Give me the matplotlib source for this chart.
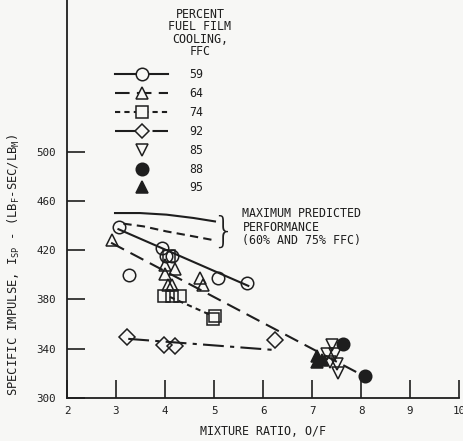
import matplotlib
matplotlib.use("Agg")
import matplotlib.pyplot as plt
from matplotlib.lines import Line2D

# test points (mixture ratio, Isp)
mr_59 = [3.07, 3.27, 3.93, 4.03, 4.14, 5.09, 5.67]
isp_59 = [439, 400, 422, 415, 415, 397, 393]
mr_64 = [2.91, 4.00, 4.20, 4.00, 4.07, 4.15, 4.71, 4.77]
isp_64 = [428, 408, 405, 401, 392, 392, 397, 392]
mr_74 = [4.08, 3.97, 4.14, 4.31, 4.97, 5.02]
isp_74 = [415, 382.5, 382.5, 382.5, 364.5, 366.5]
mr_92 = [3.22, 3.97, 4.20, 6.24]
isp_92 = [349.5, 343, 342, 347]
mr_85 = [7.40, 7.30, 7.47, 7.37, 7.50, 7.54]
isp_85 = [343, 336, 336, 329.5, 328, 320]
mr_88 = [7.64, 8.08]
isp_88 = [344, 318]
mr_95 = [7.10, 7.10, 7.20]
isp_95 = [334, 329, 331]

# faired lines
fit59_x, fit59_y = [3.05, 5.70], [437, 391]
fit64_x, fit64_y = [2.90, 8.05], [426, 318]
fit74_x, fit74_y = [4.10, 4.95], [382, 367]
fit92_x, fit92_y = [3.25, 6.22], [348, 339]

# maximum predicted performance curves
pred_a_x = [2.98, 3.49, 4.03, 4.58, 5.02]
pred_a_y = [450.1, 450.1, 448.8, 446.1, 443.3]
pred_b_x = [3.15, 3.56, 4.03, 4.51, 5.02]
pred_b_y = [441.5, 439.3, 435.2, 431.7, 427.9]

xticks = [2, 3, 4, 5, 6, 7, 8, 9, 10]
yticks = [300, 340, 380, 420, 460, 500]

bg = "#f7f7f5"
ink = "#1e1e1e"
plt.rcParams["font.family"] = ["DejaVu Sans Mono"]
plt.rcParams["mathtext.fontset"] = "custom"
plt.rcParams["mathtext.rm"] = "DejaVu Sans Mono"

fig = plt.figure(figsize=(4.63, 4.41), dpi=100, facecolor=bg)
ax = fig.add_axes([0.1447, 0.0975, 0.8467, 0.9025], facecolor=bg)

lw = 1.5
ls59 = "-"
ls64 = (0, (7, 3.5))
ls74 = (0, (2.5, 2))
ls92 = (0, (10, 3, 2, 3))
mk = dict(ms=9, mew=1.1, mec=ink, ls="none")

ax.plot(fit59_x, fit59_y, color=ink, lw=lw, ls=ls59)
ax.plot(fit64_x, fit64_y, color=ink, lw=lw, ls=ls64)
ax.plot(fit74_x, fit74_y, color=ink, lw=lw, ls=ls74)
ax.plot(fit92_x, fit92_y, color=ink, lw=lw, ls=ls92)
ax.plot(pred_a_x, pred_a_y, color=ink, lw=lw)
ax.plot(pred_b_x, pred_b_y, color=ink, lw=lw, ls=(0, (4, 2.5)))

ax.plot(mr_59, isp_59, marker="o", mfc="none", **mk)
ax.plot(mr_64, isp_64, marker="^", mfc="none", **mk)
ax.plot(mr_74, isp_74, marker="s", mfc="none", **mk)
ax.plot(mr_92, isp_92, marker="D", mfc="none", ms=8, mew=1.1, mec=ink, ls="none")
ax.plot(mr_85, isp_85, marker="v", mfc="none", **mk)
ax.plot(mr_88, isp_88, marker="o", mfc=ink, **mk)
ax.plot(mr_95, isp_95, marker="^", mfc=ink, **mk)

ax.set_xlim(2, 10)
ax.set_ylim(300, 623)
ax.set_xticks(xticks)
ax.set_yticks(yticks)
for s in ["top", "right"]:
    ax.spines[s].set_visible(False)
for s in ["left", "bottom"]:
    ax.spines[s].set_linewidth(1.3)
    ax.spines[s].set_color(ink)
ax.tick_params(direction="in", length=13, width=1.2, color=ink,
               labelsize=7.8, labelcolor=ink)
ax.tick_params(axis="y", pad=8)
ax.tick_params(axis="x", pad=6)

ax.set_xlabel("MIXTURE RATIO, O/F", fontsize=8.4, color=ink, labelpad=6)
ax.set_ylabel(r"SPECIFIC IMPULSE, I$_{\rm SP}$ - (LB$_{\rm F}$-SEC/LB$_{\rm M}$)",
              fontsize=8.7, color=ink)
ax.yaxis.set_label_coords(-0.115, 0.334)

# legend
handles = [
    Line2D([], [], color=ink, lw=lw, ls=ls59, marker="o", ms=9, mew=1.1, mfc=bg, mec=ink),
    Line2D([], [], color=ink, lw=lw, ls=ls64, marker="^", ms=9, mew=1.1, mfc=bg, mec=ink),
    Line2D([], [], color=ink, lw=lw, ls=ls74, marker="s", ms=8, mew=1.1, mfc=bg, mec=ink),
    Line2D([], [], color=ink, lw=lw, ls=ls92, marker="D", ms=7, mew=1.1, mfc=bg, mec=ink),
    Line2D([], [], ls="none", marker="v", ms=9, mew=1.1, mfc="none", mec=ink),
    Line2D([], [], ls="none", marker="o", ms=9, mew=1.1, mfc=ink, mec=ink),
    Line2D([], [], ls="none", marker="^", ms=9, mew=1.1, mfc=ink, mec=ink),
]
labels = ["59", "64", "74", "92", "85", "88", "95"]
leg = ax.legend(handles, labels, loc="upper left", bbox_to_anchor=(0.122, 0.828),
                frameon=False, fontsize=8.4, handlelength=4.6, handletextpad=1.75,
                labelspacing=0.5, borderpad=0, borderaxespad=0, numpoints=1)
for t in leg.get_texts():
    t.set_color(ink)

ax.text(0.339, 0.98, "PERCENT\nFUEL FILM\nCOOLING,\nFFC", transform=ax.transAxes,
        ha="center", va="top", fontsize=8.4, linespacing=0.95, color=ink)

ax.text(5.19, 435, "}", ha="center", va="center", fontsize=25,
        family="DejaVu Sans", fontweight="light", color=ink)
ax.text(5.58, 438.5, "MAXIMUM PREDICTED\nPERFORMANCE\n(60% AND 75% FFC)",
        ha="left", va="center", fontsize=8.4, linespacing=1.05, color=ink)

fig.savefig("out.png", dpi=100, facecolor=bg)
